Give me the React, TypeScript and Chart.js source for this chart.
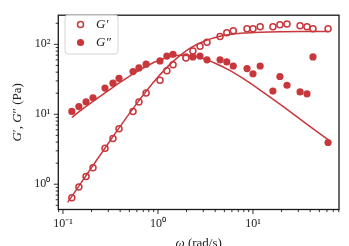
import React, { useEffect, useRef } from 'react';
import { Chart, registerables } from 'chart.js';

Chart.register(...registerables);

// measured data (rad/s, Pa)
const omega = [0.124, 0.147, 0.175, 0.207, 0.277, 0.336, 0.389, 0.546, 0.63, 0.75, 1.05, 1.24, 1.44, 1.97, 2.33, 2.77, 3.28, 4.5, 5.3, 6.2, 8.65, 10, 11.9, 16.2, 19.2, 22.8, 31.3, 37, 42.8, 61.7];
const gPrime = [0.64, 0.91, 1.29, 1.72, 3.26, 4.5, 6.2, 11, 15, 20.2, 30.6, 42, 51, 64, 80, 94, 107, 129, 147, 156, 167, 167, 178, 178, 190, 196, 184, 178, 167, 167];
const gDoublePrime = [11, 12.9, 15, 17.2, 23.7, 27.8, 32.7, 40.8, 46, 52, 58, 68, 72, 66, 66, 68, 60, 60, 56, 49, 45, 38, 49, 21.5, 34.7, 26, 20.9, 19.6, 66, 3.95];

// fitted curves
const fitOmegaGp = [0.112, 0.15, 0.2, 0.27, 0.35, 0.45, 0.6, 0.8, 1.0, 1.3, 1.7, 2.2, 3.0, 4.0, 5.5, 8, 12, 20, 35, 62];
const fitGp = [0.55, 0.98, 1.73, 3.13, 5.2, 8.4, 14.3, 23.7, 34, 50, 69, 89, 110, 125.6, 137, 145, 149.4, 151.7, 152.6, 152.9];
const fitOmegaGpp = [0.124, 0.15, 0.2, 0.27, 0.35, 0.45, 0.6, 0.8, 1.0, 1.3, 1.7, 2.2, 3.0, 4.0, 5.5, 8, 12, 20, 35, 62];
const fitGpp = [9.0, 11.1, 14.8, 19.8, 25.3, 31.9, 40.7, 50.6, 58.2, 65.6, 69.7, 69.1, 62.8, 53.7, 43.5, 32, 22, 13.4, 7.6, 4.3];

// axes
const xMin = 0.0893;
const xMax = 80.4;
const yMin = 0.435;
const yMax = 261;
const xMajorTicks = [0.1, 1, 10];
const xTickLabels = ['10⁻¹', '10⁰', '10¹'];
const yMajorTicks = [1, 10, 100];
const yTickLabels = ['10⁰', '10¹', '10²'];
const xTitle = [{ t: 'ω', i: true }, { t: ' (rad/s)', i: false }];
const yTitle = [{ t: 'G', i: true }, { t: '′, ', i: false }, { t: 'G', i: true }, { t: '″ (Pa)', i: false }];
const legendLabels = ['G′', 'G″'];

const RED = '#c8373c';
const FONT = 'Liberation Serif';

function logTicks(min: number, max: number): number[] {
  const out: number[] = [];
  for (let e = Math.floor(Math.log10(min)); e <= Math.ceil(Math.log10(max)); e++) {
    for (let m = 1; m <= 9; m++) {
      const v = Number((m * Math.pow(10, e)).toPrecision(6));
      if (v >= min && v <= max) out.push(v);
    }
  }
  return out;
}

function isMajor(v: number, majors: number[]) {
  return majors.some((m) => Math.abs(m - v) / m < 1e-6);
}

function labelFor(v: number, majors: number[], labels: string[]) {
  const i = majors.findIndex((m) => Math.abs(m - v) / m < 1e-6);
  return i >= 0 ? labels[i] : '';
}

function drawSegments(ctx: CanvasRenderingContext2D, segs: { t: string; i: boolean }[], size: number, cx: number, cy: number) {
  const fontOf = (s: { i: boolean }) => `${s.i ? 'italic ' : ''}${size}px "${FONT}"`;
  let total = 0;
  const widths = segs.map((s) => {
    ctx.font = fontOf(s);
    const w = ctx.measureText(s.t).width;
    total += w;
    return w;
  });
  let x = cx - total / 2;
  segs.forEach((s, k) => {
    ctx.font = fontOf(s);
    ctx.fillText(s.t, x, cy);
    x += widths[k];
  });
}

const decorPlugin = {
  id: 'decor',
  afterDraw(chart: any) {
    const ctx: CanvasRenderingContext2D = chart.ctx;
    const { left, right, top, bottom } = chart.chartArea;
    const xs = chart.scales.x;
    const ys = chart.scales.y;
    ctx.save();
    // frame
    ctx.strokeStyle = '#1a1a1a';
    ctx.lineWidth = 1.3;
    ctx.strokeRect(left, top, right - left, bottom - top);
    // tick marks
    ctx.lineWidth = 0.9;
    ctx.beginPath();
    xs.ticks.forEach((t: any) => {
      const px = xs.getPixelForValue(t.value);
      const len = isMajor(t.value, xMajorTicks) ? 4.5 : 2.6;
      ctx.moveTo(px, bottom);
      ctx.lineTo(px, bottom + len);
    });
    ys.ticks.forEach((t: any) => {
      const py = ys.getPixelForValue(t.value);
      const len = isMajor(t.value, yMajorTicks) ? 4.5 : 2.6;
      ctx.moveTo(left, py);
      ctx.lineTo(left - len, py);
    });
    ctx.stroke();

    // legend
    const bx = 65, by = 15, bw = 53, bh = 39, r = 3;
    ctx.beginPath();
    ctx.moveTo(bx + r, by);
    ctx.arcTo(bx + bw, by, bx + bw, by + bh, r);
    ctx.arcTo(bx + bw, by + bh, bx, by + bh, r);
    ctx.arcTo(bx, by + bh, bx, by, r);
    ctx.arcTo(bx, by, bx + bw, by, r);
    ctx.closePath();
    ctx.fillStyle = 'rgba(255,255,255,0.85)';
    ctx.fill();
    ctx.strokeStyle = '#d5d5d5';
    ctx.lineWidth = 1;
    ctx.stroke();

    const rows = [24.5, 42.5];
    // open marker
    ctx.beginPath();
    ctx.arc(80.5, rows[0], 3, 0, Math.PI * 2);
    ctx.fillStyle = '#fff';
    ctx.fill();
    ctx.strokeStyle = RED;
    ctx.lineWidth = 1.5;
    ctx.stroke();
    // filled marker
    ctx.beginPath();
    ctx.arc(80.5, rows[1], 3.6, 0, Math.PI * 2);
    ctx.fillStyle = RED;
    ctx.fill();

    ctx.fillStyle = '#222';
    ctx.textBaseline = 'middle';
    ctx.textAlign = 'left';
    legendLabels.forEach((lab, k) => {
      ctx.font = `italic 13px "${FONT}"`;
      ctx.fillText(lab, 96, rows[k] + 0.5);
    });

    // axis titles
    ctx.textBaseline = 'alphabetic';
    drawSegments(ctx, xTitle, 13, (left + right) / 2, 247);
    ctx.translate(21, (top + bottom) / 2);
    ctx.rotate(-Math.PI / 2);
    drawSegments(ctx, yTitle, 13, 0, 0);
    ctx.restore();
  },
};

export default function App() {
  const ref = useRef<HTMLCanvasElement | null>(null);
  useEffect(() => {
    document.body.style.margin = '0';
    const canvas = ref.current;
    if (!canvas) return;
    const xTickValues = logTicks(xMin, xMax);
    const yTickValues = logTicks(yMin, yMax);
    const chart = new Chart(canvas, {
      type: 'scatter',
      data: {
        datasets: [
          {
            label: 'G′ fit',
            data: fitOmegaGp.map((w, i) => ({ x: w, y: fitGp[i] })),
            showLine: true,
            borderColor: RED,
            borderWidth: 1.5,
            pointRadius: 0,
            cubicInterpolationMode: 'monotone',
            order: 1,
          } as any,
          {
            label: 'G″ fit',
            data: fitOmegaGpp.map((w, i) => ({ x: w, y: fitGpp[i] })),
            showLine: true,
            borderColor: RED,
            borderWidth: 1.5,
            pointRadius: 0,
            cubicInterpolationMode: 'monotone',
            order: 1,
          } as any,
          {
            label: 'G′',
            data: omega.map((w, i) => ({ x: w, y: gPrime[i] })),
            pointRadius: 3,
            pointBorderWidth: 1.5,
            pointBackgroundColor: '#fff',
            pointBorderColor: RED,
            order: 2,
          },
          {
            label: 'G″',
            data: omega.map((w, i) => ({ x: w, y: gDoublePrime[i] })),
            pointRadius: 3.6,
            pointBorderWidth: 0,
            pointBackgroundColor: RED,
            pointBorderColor: RED,
            order: 3,
          },
        ],
      },
      options: {
        animation: false,
        responsive: false,
        devicePixelRatio: 1,
        layout: { padding: { left: 0, right: 10, top: 10, bottom: 0 } },
        plugins: { legend: { display: false }, tooltip: { enabled: false } },
        scales: {
          x: {
            type: 'logarithmic',
            min: xMin,
            max: xMax,
            grid: { display: false, drawTicks: false },
            border: { display: false },
            afterBuildTicks: (s: any) => {
              s.ticks = xTickValues.map((v) => ({ value: v }));
            },
            afterFit: (s: any) => {
              s.height = 36.5;
            },
            ticks: {
              autoSkip: false,
              maxRotation: 0,
              padding: 7,
              color: '#222',
              font: { family: FONT, size: 12 },
              callback: (v: any) => labelFor(Number(v), xMajorTicks, xTickLabels),
            },
          },
          y: {
            type: 'logarithmic',
            min: yMin,
            max: yMax,
            grid: { display: false, drawTicks: false },
            border: { display: false },
            afterBuildTicks: (s: any) => {
              s.ticks = yTickValues.map((v) => ({ value: v }));
            },
            afterFit: (s: any) => {
              s.width = 58.3;
            },
            ticks: {
              autoSkip: false,
              padding: 8,
              color: '#222',
              font: { family: FONT, size: 12 },
              callback: (v: any) => labelFor(Number(v), yMajorTicks, yTickLabels),
            },
          },
        },
      },
      plugins: [decorPlugin],
    });
    return () => chart.destroy();
  }, []);
  return (
    <div style={{ width: 349, height: 246 }}>
      <canvas ref={ref} width={349} height={246} style={{ width: 349, height: 246, display: 'block' }} />
    </div>
  );
}
